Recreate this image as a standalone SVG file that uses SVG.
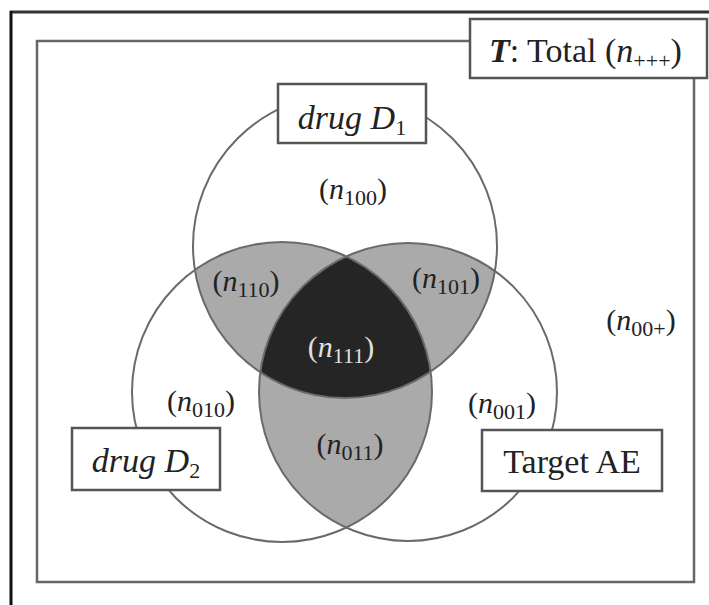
<svg xmlns="http://www.w3.org/2000/svg" width="709" height="605" viewBox="0 0 709 605">
<style>
text{font-family:"Liberation Serif","Times New Roman",serif;fill:#222}
.lbl{font-size:30px;text-anchor:middle}
.sub{font-size:22px}
.box{fill:#fff;stroke:#555;stroke-width:2.5}
.circ{fill:none;stroke:#6a6a6a;stroke-width:2}
.box-t{font-size:34px}
</style>
<defs>
<clipPath id="c1"><circle cx="345" cy="246" r="152"/></clipPath>
<clipPath id="c2"><circle cx="282" cy="392" r="150"/></clipPath>
<clipPath id="c3"><circle cx="408" cy="392" r="149"/></clipPath>
</defs>
<rect width="709" height="605" fill="#fff"/>
<g id="frame">
<line x1="10" y1="12" x2="709" y2="12" stroke="#333" stroke-width="3"/>
<line x1="11" y1="11" x2="11" y2="605" stroke="#111" stroke-width="3"/>
<rect x="37" y="41" width="657" height="541" fill="none" stroke="#666" stroke-width="2.5"/>
</g>
<g id="regions">
<g clip-path="url(#c1)">
<circle cx="282" cy="392" r="150" fill="#aaa"/>
<circle cx="408" cy="392" r="149" fill="#aaa"/>
</g>
<g clip-path="url(#c2)">
<circle cx="408" cy="392" r="149" fill="#aaa"/>
</g>
<g clip-path="url(#c1)"><g clip-path="url(#c2)">
<circle cx="408" cy="392" r="149" fill="#252525"/>
</g></g>
</g>
<g id="circles">
<circle id="circle-D1" class="circ" cx="345" cy="246" r="152"/>
<circle id="circle-D2" class="circ" cx="282" cy="392" r="150"/>
<circle id="circle-AE" class="circ" cx="408" cy="392" r="149"/>
</g>
<g id="connectors"></g>
<g id="node-total">
<rect class="box" x="470" y="19" width="237" height="59"/>
<text class="box-t" x="489" y="62"><tspan font-weight="bold" font-style="italic">T</tspan>: Total (<tspan font-style="italic">n</tspan><tspan class="sub" dy="6">+++</tspan><tspan dy="-6">)</tspan></text>
</g>
<g id="node-D1">
<rect class="box" x="278" y="84" width="148" height="59"/>
<text class="box-t" x="352" y="129" text-anchor="middle"><tspan font-style="italic">drug D</tspan><tspan class="sub" dy="6">1</tspan></text>
</g>
<g id="node-D2">
<rect class="box" x="72" y="428" width="148" height="62"/>
<text class="box-t" x="146" y="472" text-anchor="middle"><tspan font-style="italic">drug D</tspan><tspan class="sub" dy="6">2</tspan></text>
</g>
<g id="node-AE">
<rect class="box" x="482" y="430" width="180" height="61"/>
<text class="box-t" x="572" y="473" text-anchor="middle">Target AE</text>
</g>
<g id="region-labels">
<text class="lbl" x="353" y="199">(<tspan font-style="italic">n</tspan><tspan class="sub" dy="6">100</tspan><tspan dy="-6">)</tspan></text>
<text class="lbl" x="246" y="291">(<tspan font-style="italic">n</tspan><tspan class="sub" dy="6">110</tspan><tspan dy="-6">)</tspan></text>
<text class="lbl" x="446" y="288">(<tspan font-style="italic">n</tspan><tspan class="sub" dy="6">101</tspan><tspan dy="-6">)</tspan></text>
<text class="lbl" x="341" y="357" style="fill:#e0e0e0">(<tspan font-style="italic">n</tspan><tspan class="sub" dy="6">111</tspan><tspan dy="-6">)</tspan></text>
<text class="lbl" x="201" y="411">(<tspan font-style="italic">n</tspan><tspan class="sub" dy="6">010</tspan><tspan dy="-6">)</tspan></text>
<text class="lbl" x="502" y="413">(<tspan font-style="italic">n</tspan><tspan class="sub" dy="6">001</tspan><tspan dy="-6">)</tspan></text>
<text class="lbl" x="350" y="454">(<tspan font-style="italic">n</tspan><tspan class="sub" dy="6">011</tspan><tspan dy="-6">)</tspan></text>
<text class="lbl" x="641" y="330">(<tspan font-style="italic">n</tspan><tspan class="sub" dy="6">00+</tspan><tspan dy="-6">)</tspan></text>
</g>
</svg>
